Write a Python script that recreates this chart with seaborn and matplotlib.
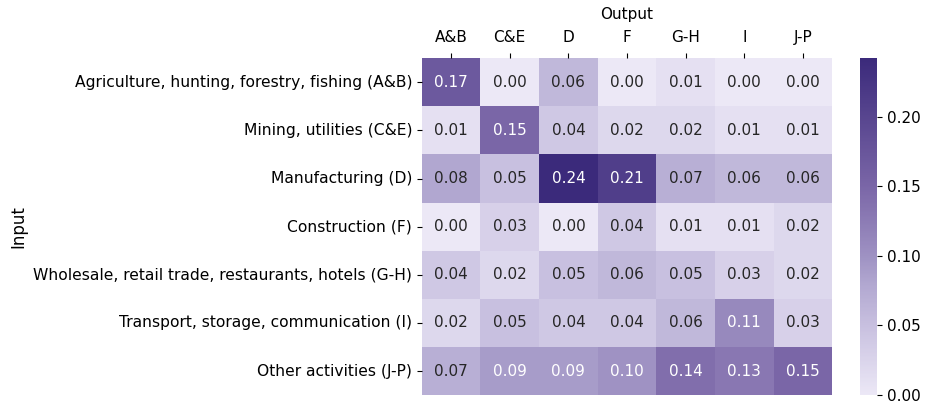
import numpy as np
import pandas as pd
import matplotlib
matplotlib.use("Agg")
import matplotlib.pyplot as plt
from matplotlib.colors import LinearSegmentedColormap
import seaborn as sns

inputs = [
    "Agriculture, hunting, forestry, fishing (A&B)",
    "Mining, utilities (C&E)",
    "Manufacturing (D)",
    "Construction (F)",
    "Wholesale, retail trade, restaurants, hotels (G-H)",
    "Transport, storage, communication (I)",
    "Other activities (J-P)",
]
outputs = ["A&B", "C&E", "D", "F", "G-H", "I", "J-P"]

row_ab = [0.17, 0.00, 0.06, 0.00, 0.01, 0.00, 0.00]
row_ce = [0.01, 0.15, 0.04, 0.02, 0.02, 0.01, 0.01]
row_d = [0.08, 0.05, 0.242, 0.21, 0.07, 0.06, 0.06]
row_f = [0.00, 0.03, 0.00, 0.04, 0.01, 0.01, 0.02]
row_gh = [0.04, 0.02, 0.05, 0.06, 0.05, 0.03, 0.02]
row_i = [0.02, 0.05, 0.04, 0.04, 0.06, 0.11, 0.03]
row_jp = [0.07, 0.09, 0.09, 0.10, 0.14, 0.13, 0.15]

df = pd.DataFrame([row_ab, row_ce, row_d, row_f, row_gh, row_i, row_jp],
                  index=inputs, columns=outputs)

# muted purple ramp, lavender -> indigo
cmap = LinearSegmentedColormap.from_list(
    "purp", [(0.0, "#ece8f6"), (0.21, "#c7bfdf"), (0.33, "#b1a7d0"),
             (0.41, "#9f92c3"), (0.62, "#7a66a7"), (1.0, "#3b2a7b")])

fig, ax = plt.subplots(figsize=(9.31, 4.04), dpi=100)
sns.heatmap(df, ax=ax, cmap=cmap, annot=True, fmt=".2f", vmin=0,
            annot_kws={"fontsize": 11},
            cbar_kws={"ticks": [0, 0.05, 0.10, 0.15, 0.20]})
ax.xaxis.tick_top()
ax.xaxis.set_label_position("top")
ax.set_xlabel("Output", fontsize=11, labelpad=8)
ax.set_ylabel("Input", fontsize=12)
ax.tick_params(axis="x", rotation=0, labelsize=11, pad=6)
ax.tick_params(axis="y", rotation=0, labelsize=11.2)
cbar = ax.collections[0].colorbar
cbar.ax.tick_params(labelsize=11)
cbar.outline.set_visible(False)

ax.set_position([0.453, 0.022, 0.441, 0.834])
cbar.ax.set_position([0.924, 0.022, 0.019, 0.834])
plt.savefig("out.png", dpi=100)
